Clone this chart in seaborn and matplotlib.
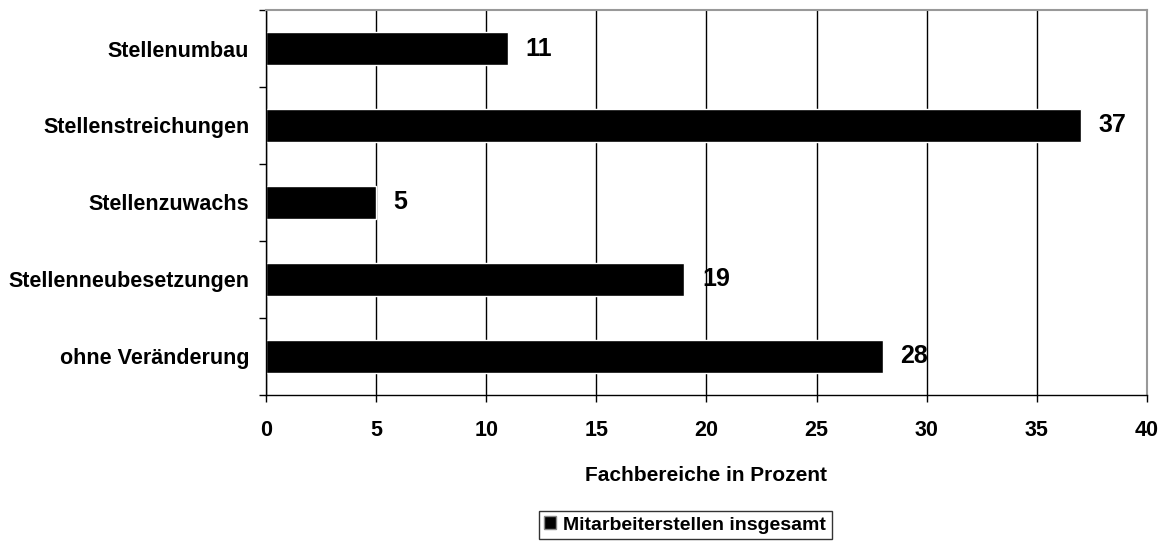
import matplotlib
matplotlib.use("Agg")
import matplotlib.pyplot as plt
from matplotlib.patches import Patch
import seaborn as sns
import pandas as pd

categories = ["Stellenumbau", "Stellenstreichungen", "Stellenzuwachs",
              "Stellenneubesetzungen", "ohne Veränderung"]
values = [11, 37, 5, 19, 28]
x_ticks = [0, 5, 10, 15, 20, 25, 30, 35, 40]
x_label = "Fachbereiche in Prozent"
series_name = "Mitarbeiterstellen insgesamt"

df = pd.DataFrame({"Kategorie": categories, "Prozent": values})

sns.set_theme(style="white")
plt.rcParams["font.family"] = ["Liberation Sans", "DejaVu Sans"]
plt.rcParams["font.weight"] = "bold"
for key in ["text.color", "axes.labelcolor", "xtick.color", "ytick.color"]:
    plt.rcParams[key] = "black"

fig = plt.figure(figsize=(11.68, 5.41), dpi=100)
ax = fig.add_axes([0.2277, 0.270, 0.7543, 0.7115])

sns.barplot(data=df, y="Kategorie", x="Prozent", order=categories,
            color="black", width=0.43, saturation=1, ax=ax, orient="h")

for i, v in enumerate(values):
    ax.text(v + 0.8, i, str(v), va="center", ha="left",
            fontsize=18, fontweight="bold", color="black")

ax.set_xlim(0, 40)
ax.set_ylim(len(categories) - 0.5, -0.5)
ax.set_xticks(x_ticks)
ax.set_xticklabels([str(t) for t in x_ticks], fontsize=15.5, fontweight="bold")
ax.set_yticks(range(len(categories)))
ax.set_yticklabels(categories, fontsize=15.5, fontweight="bold")
ax.set_yticks([i - 0.5 for i in range(len(categories) + 1)], minor=True)
ax.tick_params(axis="y", which="major", length=0, pad=12)
ax.tick_params(axis="y", which="minor", length=5, width=1, color="black",
               direction="out", left=True)
ax.tick_params(axis="x", which="major", length=5, width=1, color="black",
               direction="out", bottom=True, pad=13)
ax.set_xlabel(x_label, fontsize=15, fontweight="bold", labelpad=18)
ax.set_ylabel("")

ax.grid(axis="x", color="black", linewidth=1)
ax.grid(axis="y", visible=False)
ax.set_axisbelow(True)

for side in ["left", "bottom"]:
    ax.spines[side].set_color("black")
    ax.spines[side].set_linewidth(1)
for side in ["top", "right"]:
    ax.spines[side].set_color("#999999")
    ax.spines[side].set_linewidth(1.5)

handle = Patch(facecolor="black", edgecolor="#888888", linewidth=1)
leg = fig.legend([handle], [series_name], loc="center",
                 bbox_to_anchor=(0.5865, 0.0296), frameon=True, fancybox=False,
                 handlelength=0.6, handleheight=0.6, handletextpad=0.35,
                 borderpad=0.3, prop={"size": 14, "weight": "bold"})
leg.get_frame().set_edgecolor("black")
leg.get_frame().set_linewidth(1)

fig.savefig("out.png", dpi=100)
